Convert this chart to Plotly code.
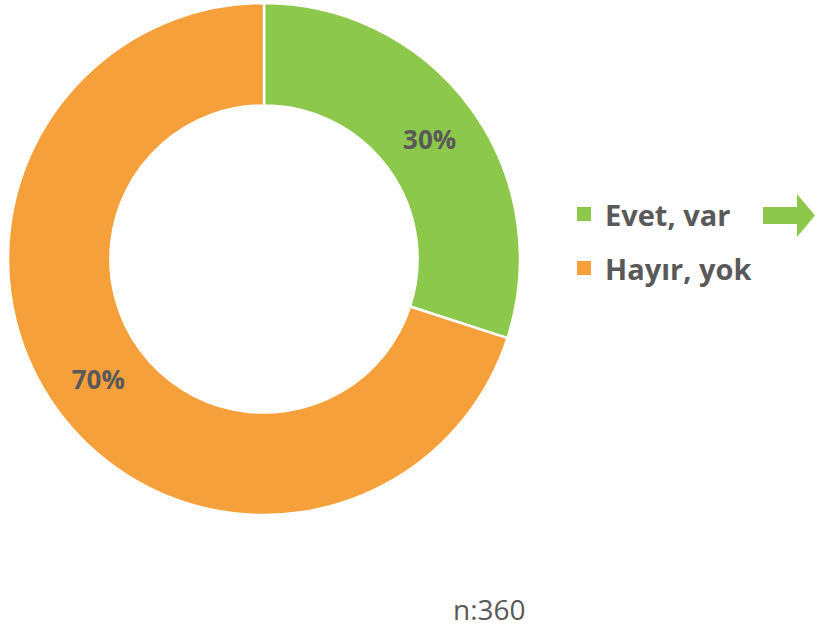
import plotly.graph_objects as go

labels = ["Evet, var", "Hayır, yok"]
values = [108, 252]
colors = ["#8CC84B", "#F6A03B"]
note = "n:360"

W, H = 817, 628
def px(x): return x / W
def py(y): return 1 - y / H

fig = go.Figure()
fig.add_trace(go.Pie(
    labels=labels, values=values, hole=0.6, sort=False, direction="clockwise",
    rotation=0,
    marker=dict(colors=colors, line=dict(color="white", width=2.5)),
    texttemplate="%{percent:.0%}", textposition="inside",
    insidetextorientation="horizontal",
    textfont=dict(family="Open Sans", size=26, color="#595959", weight="bold"),
    domain=dict(x=[px(8), px(520)], y=[py(515), py(3)]),
    showlegend=False, hoverinfo="label+percent",
))

shapes = []
annotations = []
leg_y = [214, 268]
for lab, col, yc in zip(labels, colors, leg_y):
    shapes.append(dict(type="rect", xref="paper", yref="paper",
                       x0=px(577), x1=px(591), y0=py(yc - 7), y1=py(yc + 7),
                       fillcolor=col, line=dict(width=0)))
    annotations.append(dict(text=lab, xref="paper", yref="paper",
                            x=px(603), y=py(yc), xanchor="left", yanchor="middle",
                            showarrow=False,
                            font=dict(family="Open Sans", size=29, color="#595959", weight="bold")))

# arrow
pts = [(763, 207), (797, 207), (797, 194), (815, 215.5), (797, 237), (797, 224), (763, 224)]
path = "M " + " L ".join(f"{px(x)},{py(y)}" for x, y in pts) + " Z"
shapes.append(dict(type="path", xref="paper", yref="paper", path=path,
                   fillcolor=colors[0], line=dict(width=0)))

annotations.append(dict(text=note, xref="paper", yref="paper", x=px(489), y=py(609),
                        xanchor="center", yanchor="middle", showarrow=False,
                        font=dict(family="Open Sans", size=28, color="#595959")))

fig.update_layout(width=W, height=H, margin=dict(l=0, r=0, t=0, b=0),
                  paper_bgcolor="white", plot_bgcolor="white",
                  shapes=shapes, annotations=annotations)
fig.write_html("out.html", config={"displayModeBar": False},
               post_script="document.body.style.margin='0';document.body.style.padding='0';")
